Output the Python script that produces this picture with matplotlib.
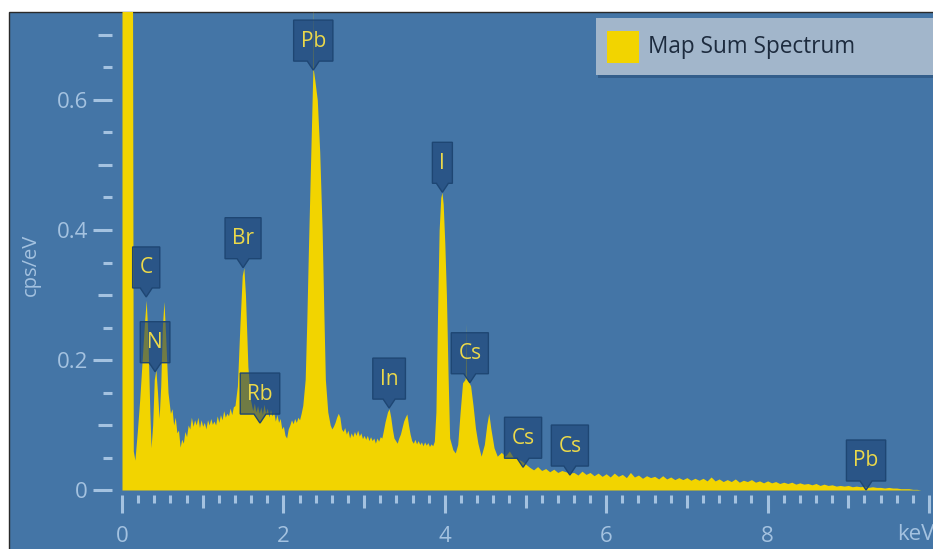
import numpy as np
import matplotlib
matplotlib.use("Agg")
import matplotlib.pyplot as plt
import matplotlib.transforms as mtransforms
from matplotlib.patches import Polygon, Rectangle

plt.rcParams["font.family"] = ["Open Sans", "DejaVu Sans"]

# spectrum (keV, cps/eV)
energy_kev = [
    # zero peak, C, N, O
    0.00, 0.00, 0.13, 0.14, 0.16, 0.19, 0.22, 0.25, 0.28, 0.30, 0.32, 0.345,
    0.36, 0.38, 0.40, 0.42, 0.44, 0.46, 0.48, 0.50, 0.52, 0.54, 0.57,
    # background hump up to Br
    0.60, 0.62, 0.64, 0.66, 0.68, 0.70, 0.72, 0.74, 0.76, 0.78, 0.80, 0.82,
    0.84, 0.86, 0.88, 0.90, 0.92, 0.94, 0.96, 0.98, 1.00, 1.02, 1.04, 1.06,
    1.08, 1.10, 1.12, 1.14, 1.16, 1.18, 1.20, 1.22, 1.24, 1.26, 1.28, 1.30,
    1.32, 1.34, 1.36, 1.38, 1.40,
    # Br L
    1.43, 1.46, 1.49, 1.51, 1.53, 1.56, 1.59,
    # Rb region
    1.62, 1.64, 1.66, 1.68, 1.70, 1.72, 1.74, 1.76, 1.78, 1.80, 1.82, 1.84,
    1.86, 1.88, 1.90, 1.92, 1.94, 1.96, 1.98, 2.00, 2.02, 2.04, 2.06, 2.08,
    2.10, 2.12, 2.14, 2.16, 2.18, 2.20, 2.22, 2.24,
    # Pb M
    2.27, 2.29, 2.31, 2.33, 2.35, 2.365, 2.368, 2.372, 2.39, 2.42, 2.45, 2.48,
    2.50, 2.52,
    # In region
    2.55, 2.58, 2.60, 2.62, 2.64, 2.66, 2.68, 2.70, 2.72, 2.74, 2.76, 2.78,
    2.80, 2.82, 2.84, 2.86, 2.88, 2.90, 2.92, 2.94, 2.96, 2.98, 3.00, 3.02,
    3.04, 3.06, 3.08, 3.10, 3.12, 3.14, 3.16, 3.18, 3.20, 3.22, 3.24, 3.26,
    3.29, 3.31, 3.33, 3.35, 3.37, 3.39, 3.41, 3.43, 3.45, 3.47, 3.49, 3.51,
    3.53, 3.55, 3.57, 3.59, 3.61, 3.63, 3.65, 3.67, 3.69, 3.71, 3.73, 3.75,
    3.77, 3.79, 3.81, 3.83, 3.85, 3.87,
    # I L, Cs L
    3.89, 3.91, 3.93, 3.95, 3.965, 3.98, 4.00, 4.02, 4.04, 4.06, 4.10, 4.13,
    4.16, 4.19, 4.22, 4.25, 4.255, 4.26, 4.265, 4.29, 4.32, 4.35, 4.38, 4.41,
    4.45, 4.49, 4.52, 4.545, 4.57, 4.61, 4.65,
    # tail
    4.70, 4.75, 4.80, 4.85, 4.90, 4.95, 5.00, 5.05, 5.10, 5.15, 5.20, 5.25,
    5.30, 5.35, 5.40, 5.45, 5.50, 5.55, 5.60, 5.65, 5.70, 5.75, 5.80, 5.85,
    5.90, 5.95, 6.00, 6.05, 6.10, 6.15, 6.20, 6.25, 6.30, 6.35, 6.40, 6.45,
    6.50, 6.55, 6.60, 6.65, 6.70, 6.75, 6.80, 6.85, 6.90, 6.95, 7.00, 7.05,
    7.10, 7.15, 7.20, 7.25, 7.30, 7.35, 7.40, 7.45, 7.50, 7.55, 7.60, 7.65,
    7.70, 7.75, 7.80, 7.85, 7.90, 7.95, 8.00, 8.05, 8.10, 8.15, 8.20, 8.25,
    8.30, 8.35, 8.40, 8.45, 8.50, 8.55, 8.60, 8.65, 8.70, 8.75, 8.80, 8.85,
    8.90, 8.95, 9.00, 9.05, 9.10, 9.15, 9.20, 9.25, 9.30, 9.35, 9.40, 9.45,
    9.50, 9.55, 9.60, 9.65, 9.70, 9.75, 9.80, 9.85, 9.90,
]
cps_per_ev = [
    0.0, 0.80, 0.80, 0.060, 0.046, 0.09, 0.14, 0.20, 0.26, 0.292, 0.24, 0.12,
    0.065, 0.10, 0.17, 0.185, 0.15, 0.11, 0.16, 0.25, 0.29, 0.24, 0.15,
    0.118, 0.125, 0.100, 0.112, 0.088, 0.092, 0.066, 0.078, 0.072, 0.090, 0.082, 0.100,
    0.094, 0.112, 0.098, 0.108, 0.100, 0.112, 0.096, 0.108, 0.098, 0.104, 0.094, 0.108,
    0.100, 0.110, 0.101, 0.106, 0.100, 0.114, 0.104, 0.116, 0.108, 0.122, 0.112, 0.118,
    0.114, 0.126, 0.116, 0.128, 0.130,
    0.16, 0.25, 0.33, 0.342, 0.30, 0.19, 0.14,
    0.122, 0.134, 0.120, 0.130, 0.118, 0.128, 0.116, 0.132, 0.118, 0.126, 0.112, 0.124,
    0.114, 0.120, 0.106, 0.116, 0.104, 0.110, 0.094, 0.098, 0.084, 0.080, 0.094, 0.100,
    0.108, 0.102, 0.110, 0.104, 0.112, 0.108, 0.118, 0.130,
    0.17, 0.26, 0.37, 0.47, 0.57, 0.646, 0.76, 0.646, 0.63, 0.60, 0.52, 0.40,
    0.28, 0.17,
    0.120, 0.100, 0.094, 0.098, 0.104, 0.112, 0.118, 0.112, 0.094, 0.090, 0.096, 0.086,
    0.092, 0.080, 0.088, 0.082, 0.090, 0.084, 0.092, 0.083, 0.088, 0.079, 0.084, 0.078,
    0.084, 0.076, 0.082, 0.076, 0.080, 0.072, 0.080, 0.075, 0.082, 0.080, 0.092, 0.105,
    0.120, 0.125, 0.112, 0.094, 0.080, 0.076, 0.072, 0.080, 0.086, 0.096, 0.106, 0.112,
    0.117, 0.100, 0.086, 0.076, 0.072, 0.078, 0.071, 0.076, 0.070, 0.074, 0.068, 0.074,
    0.069, 0.073, 0.067, 0.071, 0.068, 0.075,
    0.12, 0.27, 0.40, 0.45, 0.458, 0.44, 0.38, 0.30, 0.18, 0.08, 0.062, 0.057,
    0.07, 0.12, 0.165, 0.17, 0.175, 0.257, 0.175, 0.168, 0.16, 0.13, 0.095, 0.072,
    0.052, 0.07, 0.10, 0.118, 0.095, 0.065, 0.052,
    0.058, 0.052, 0.060, 0.050, 0.048, 0.045, 0.040, 0.035, 0.031, 0.036, 0.030, 0.033,
    0.028, 0.032, 0.027, 0.030, 0.028, 0.026, 0.027, 0.023, 0.029, 0.024, 0.027, 0.022,
    0.026, 0.021, 0.025, 0.020, 0.026, 0.021, 0.024, 0.019, 0.027, 0.020, 0.023, 0.018,
    0.022, 0.019, 0.021, 0.017, 0.022, 0.017, 0.020, 0.016, 0.019, 0.016, 0.019, 0.015,
    0.018, 0.015, 0.018, 0.014, 0.020, 0.014, 0.017, 0.013, 0.016, 0.013, 0.017, 0.012,
    0.015, 0.013, 0.016, 0.012, 0.014, 0.011, 0.014, 0.011, 0.013, 0.010, 0.012, 0.010,
    0.012, 0.009, 0.011, 0.009, 0.010, 0.008, 0.010, 0.007, 0.009, 0.007, 0.008, 0.006,
    0.007, 0.006, 0.007, 0.005, 0.006, 0.005, 0.006, 0.004, 0.005, 0.004, 0.004, 0.003,
    0.004, 0.003, 0.003, 0.002, 0.002, 0.002, 0.001, 0.001, 0.0,
]

# element markers
peak_elements = ["C", "N", "Br", "Rb", "Pb", "In", "I", "Cs", "Cs", "Cs", "Pb"]
peak_kev = [0.30, 0.41, 1.50, 1.71, 2.37, 3.31, 3.97, 4.31, 4.97, 5.55, 9.22]
peak_cps = [0.297, 0.182, 0.342, 0.103, 0.646, 0.126, 0.458, 0.165, 0.035, 0.023, 0.0]

x_ticks = np.arange(0, 11, 1)
x_tick_labels = ["0", "", "2", "", "4", "", "6", "", "8", "", ""]
x_minor = [v for v in np.arange(0, 10.01, 0.2) if abs(v - round(v)) > 1e-6]
y_ticks = np.arange(0, 0.71, 0.1)
y_tick_labels = ["0", "", "0.2", "", "0.4", "", "0.6", ""]
y_minor = np.arange(0.05, 0.71, 0.1)

bg = "#4475a6"
yellow = "#f2d400"
tick_col = "#a4c2e0"
W, H = 933, 549

fig = plt.figure(figsize=(W / 100, H / 100), dpi=100)
fig.patch.set_facecolor("white")

# blue panel with thin dark frame on top / left
fig.add_artist(Rectangle((8.5 / W, -0.05), 1.1, 1.05 - 12 / H, transform=fig.transFigure,
                         facecolor=bg, edgecolor="#2a2a2a", lw=1.0, zorder=0))

ax = fig.add_axes([112 / W, 54 / H, (W - 112) / W, 483 / H])
ax.set_facecolor("none")
for s in ax.spines.values():
    s.set_visible(False)
ax.set_xlim(-10 / 80.7, (W - 122) / 80.7)
ax.set_ylim(-5 / 650, 478 / 650)

ax.fill_between(energy_kev, cps_per_ev, 0, color=yellow, lw=0, zorder=2)

ax.tick_params(axis="both", which="both", color=tick_col, labelcolor=tick_col,
               width=2.2, labelsize=16)
ax.tick_params(axis="x", which="major", length=13, pad=9)
ax.tick_params(axis="x", which="minor", length=5.8)
ax.tick_params(axis="y", which="major", length=13.7, pad=3.6)
ax.tick_params(axis="y", which="minor", length=6.5)
ax.set_xticks(x_ticks)
ax.set_xticklabels(x_tick_labels)
ax.set_xticks(x_minor, minor=True)
ax.set_yticks(y_ticks)
ax.set_yticklabels(y_tick_labels)
ax.set_yticks(y_minor, minor=True)

# odd keV / odd tenths get a medium tick
for t, v in zip(ax.xaxis.get_major_ticks(), x_ticks):
    if v % 2:
        t.tick1line.set_markersize(9.4)
for i, t in enumerate(ax.yaxis.get_major_ticks()):
    if i % 2:
        t.tick1line.set_markersize(10)

# unit label sits in place of the last tick label
ax.annotate("keV", xy=(9.84, ax.get_ylim()[0]), xytext=(0, -28.5), textcoords="offset pixels",
            ha="center", va="top", fontsize=16, color=tick_col, annotation_clip=False)
fig.text(31 / W, 1 - 265 / H, "cps/eV", rotation=90, ha="center", va="center",
         fontsize=14.5, color=tick_col)

# legend box
fig.add_artist(Rectangle((598 / W, 1 - 78 / H), 0.5, 58 / H, transform=fig.transFigure,
                         facecolor="#2c5580", edgecolor="none", alpha=0.7, zorder=5))
fig.add_artist(Rectangle((596 / W, 1 - 75 / H), 0.5, 57 / H, transform=fig.transFigure,
                         facecolor="#a2b6cb", edgecolor="none", zorder=6))
fig.add_artist(Rectangle((607 / W, 1 - 63 / H), 32 / W, 32 / H, transform=fig.transFigure,
                         facecolor=yellow, edgecolor="none", zorder=7))
fig.text(648 / W, 1 - 47 / H, "Map Sum Spectrum", ha="left", va="center",
         fontsize=16.3, color="#1d2b3e", zorder=7)

# element markers: box with a pointer down to the peak
fig.canvas.draw()
renderer = fig.canvas.get_renderer()
ident = mtransforms.IdentityTransform()
for name, e, c in zip(peak_elements, peak_kev, peak_cps):
    tx, ty = ax.transData.transform((e, c))
    txt = ax.annotate(name, xy=(e, c), xytext=(0, 29), textcoords="offset pixels",
                      ha="center", va="center", fontsize=15, color="#ecd94a",
                      zorder=5, annotation_clip=False)
    w = max(txt.get_window_extent(renderer).width + 14, 20)
    verts = [(tx, ty), (tx - 6, ty + 9), (tx - w / 2, ty + 9), (tx - w / 2, ty + 50),
             (tx + w / 2, ty + 50), (tx + w / 2, ty + 9), (tx + 6, ty + 9)]
    ax.add_patch(Polygon(verts, closed=True, transform=ident, facecolor=(0.10, 0.25, 0.45, 0.6),
                         edgecolor="#1e4673", lw=1.0, zorder=4, clip_on=False))

fig.savefig("out.png", dpi=100)
